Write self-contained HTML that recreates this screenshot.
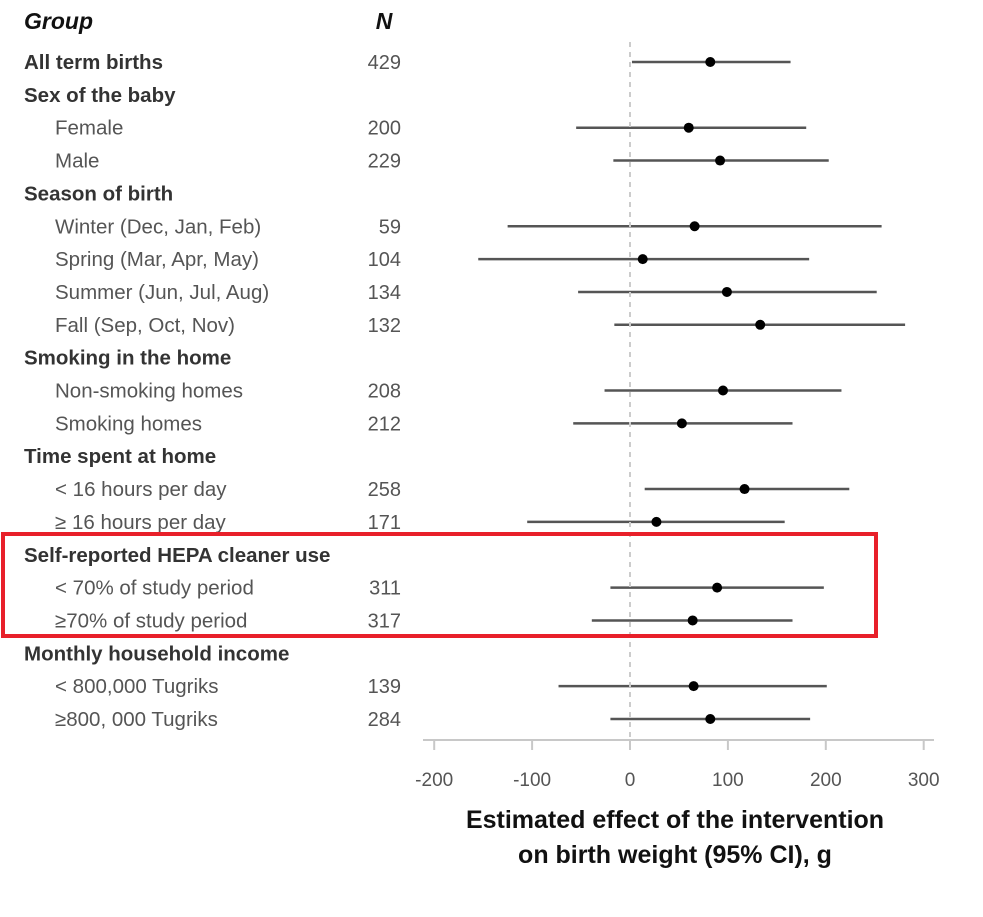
<!DOCTYPE html>
<html><head><meta charset="utf-8"><style>
body{margin:0;background:#fff;}
svg{display:block;font-family:"Liberation Sans",Arial,sans-serif;}
</style></head><body>
<svg id="c" width="983" height="917" viewBox="0 0 983 917">
<text x="24" y="29" font-size="23" font-weight="bold" font-style="italic" fill="#111">Group</text>
<text x="384" y="29" font-size="23" font-weight="bold" font-style="italic" fill="#111" text-anchor="middle">N</text>
<g id="rows"></g>
<g id="axis"></g>
<text x="675" y="828" font-size="25" font-weight="bold" fill="#111" text-anchor="middle">Estimated effect of the intervention</text>
<text x="675" y="863" font-size="25" font-weight="bold" fill="#111" text-anchor="middle">on birth weight (95% CI), g</text>
<rect x="3" y="534" width="873" height="102" fill="none" stroke="#e8202a" stroke-width="4"/>
</svg>
<script>
const labels=["All term births","Sex of the baby","Female","Male","Season of birth","Winter (Dec, Jan, Feb)","Spring (Mar, Apr, May)","Summer (Jun, Jul, Aug)","Fall (Sep, Oct, Nov)","Smoking in the home","Non-smoking homes","Smoking homes","Time spent at home","< 16 hours per day","≥ 16 hours per day","Self-reported HEPA cleaner use","< 70% of study period","≥70% of study period","Monthly household income","< 800,000 Tugriks","≥800, 000 Tugriks"];
const isHeader=[1,1,0,0,1,0,0,0,0,1,0,0,1,0,0,1,0,0,1,0,0];
const nValues=[429,null,200,229,null,59,104,134,132,null,208,212,null,258,171,null,311,317,null,139,284];
const estimates=[82,null,60,92,null,66,13,99,133,null,95,53,null,117,27,null,89,64,null,65,82];
const lower=[2,null,-55,-17,null,-125,-155,-53,-16,null,-26,-58,null,15,-105,null,-20,-39,null,-73,-20];
const upper=[164,null,180,203,null,257,183,252,281,null,216,166,null,224,158,null,198,166,null,201,184];
const ticks=[-200,-100,0,100,200,300];
const NS="http://www.w3.org/2000/svg";
const xs=v=>630+v*0.979;
const ys=i=>62+i*32.85;
const rows=document.getElementById('rows');
const ax=document.getElementById('axis');
function mk(tag,attrs,parent){const e=document.createElementNS(NS,tag);for(const k in attrs)e.setAttribute(k,attrs[k]);parent.appendChild(e);return e;}
const z=mk('line',{x1:xs(0),x2:xs(0),y1:42,y2:738,stroke:'#ccc','stroke-width':2,'stroke-dasharray':'5,5'},ax);


const al=mk('line',{x1:423,x2:934,y1:740,y2:740,stroke:'#c8c8c8','stroke-width':2},ax);


ticks.forEach(t=>{
 const tl=mk('line',{x1:xs(t),x2:xs(t),y1:740,y2:750,stroke:'#c8c8c8','stroke-width':2},ax);
 
 
 const tx=mk('text',{x:xs(t),y:786,'font-size':19,fill:'#555','text-anchor':'middle'},ax);
 tx.textContent=t;
 
 
});
labels.forEach((l,i)=>{
 const y=ys(i);
 const h=isHeader[i]||i===0;
 const t=mk('text',{x:h?24:55,y:y+7,'font-size':20.5,fill:h?'#333':'#555','font-weight':h?'bold':'normal'},rows);
 t.textContent=l;
 
 
 if(nValues[i]!=null){
  const n=mk('text',{x:401,y:y+7,'font-size':20,fill:'#555','text-anchor':'end'},rows);
  n.textContent=nValues[i];
  
  
 }
 if(estimates[i]!=null){
  const ci=mk('line',{x1:xs(lower[i]),x2:xs(upper[i]),y1:y,y2:y,stroke:'#555','stroke-width':2.5},rows);
  
  
  const p=mk('circle',{cx:xs(estimates[i]),cy:y,r:5,fill:'#000'},rows);
  
  
 }
});
</script>
</body></html>
